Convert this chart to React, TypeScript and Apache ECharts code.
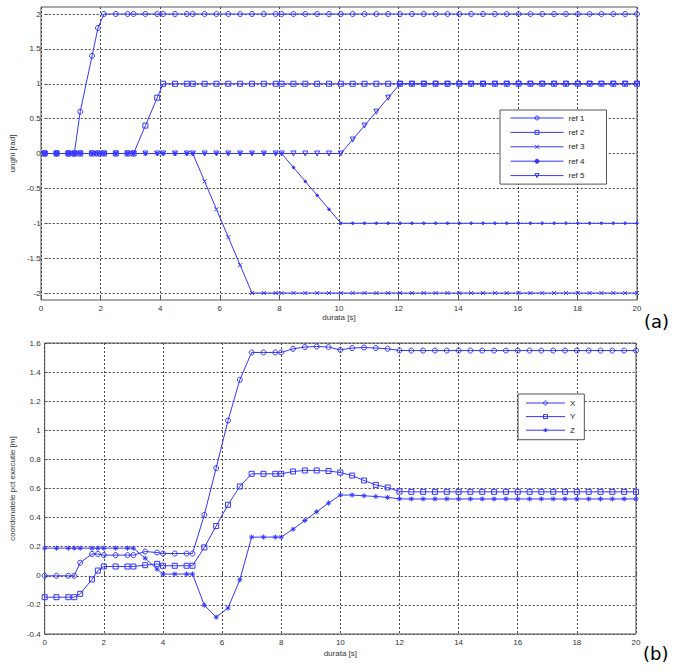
import React, { useEffect, useRef } from "react";
import * as echarts from "echarts";

// sample times (s)
const T = [0, 0.4, 0.8, 1.0, 1.2, 1.6, 1.8, 2.0, 2.4, 2.8, 3.0, 3.4, 3.8, 4.0, 4.4, 4.8, 5.0, 5.4, 5.8, 6.2, 6.6, 7.0, 7.4, 7.8, 8.0, 8.4, 8.8, 9.2, 9.6, 10.0, 10.4, 10.8, 11.2, 11.6, 12.0, 12.4, 12.8, 13.2, 13.6, 14.0, 14.4, 14.8, 15.2, 15.6, 16.0, 16.4, 16.8, 17.2, 17.6, 18.0, 18.4, 18.8, 19.2, 19.6, 20.0];

// (a) references [rad]
const REF1 = [0, 0, 0, 0, 0.6, 1.4, 1.8, 2, 2, 2, 2, 2, 2, 2, 2, 2, 2, 2, 2, 2, 2, 2, 2, 2, 2, 2, 2, 2, 2, 2, 2, 2, 2, 2, 2, 2, 2, 2, 2, 2, 2, 2, 2, 2, 2, 2, 2, 2, 2, 2, 2, 2, 2, 2, 2];
const REF2 = [0, 0, 0, 0, 0, 0, 0, 0, 0, 0, 0, 0.4, 0.8, 1, 1, 1, 1, 1, 1, 1, 1, 1, 1, 1, 1, 1, 1, 1, 1, 1, 1, 1, 1, 1, 1, 1, 1, 1, 1, 1, 1, 1, 1, 1, 1, 1, 1, 1, 1, 1, 1, 1, 1, 1, 1];
const REF3 = [0, 0, 0, 0, 0, 0, 0, 0, 0, 0, 0, 0, 0, 0, 0, 0, 0, -0.4, -0.8, -1.2, -1.6, -2, -2, -2, -2, -2, -2, -2, -2, -2, -2, -2, -2, -2, -2, -2, -2, -2, -2, -2, -2, -2, -2, -2, -2, -2, -2, -2, -2, -2, -2, -2, -2, -2, -2];
const REF4 = [0, 0, 0, 0, 0, 0, 0, 0, 0, 0, 0, 0, 0, 0, 0, 0, 0, 0, 0, 0, 0, 0, 0, 0, 0, -0.2, -0.4, -0.6, -0.8, -1, -1, -1, -1, -1, -1, -1, -1, -1, -1, -1, -1, -1, -1, -1, -1, -1, -1, -1, -1, -1, -1, -1, -1, -1, -1];
const REF5 = [0, 0, 0, 0, 0, 0, 0, 0, 0, 0, 0, 0, 0, 0, 0, 0, 0, 0, 0, 0, 0, 0, 0, 0, 0, 0, 0, 0, 0, 0, 0.2, 0.4, 0.6, 0.8, 1, 1, 1, 1, 1, 1, 1, 1, 1, 1, 1, 1, 1, 1, 1, 1, 1, 1, 1, 1, 1];

// (b) executed point coordinates [m]
const COORD_X = [0, 0, 0, 0, 0.09, 0.15, 0.15, 0.142, 0.142, 0.142, 0.142, 0.167, 0.16, 0.153, 0.153, 0.153, 0.153, 0.419, 0.74, 1.067, 1.347, 1.535, 1.535, 1.535, 1.535, 1.56, 1.572, 1.576, 1.572, 1.553, 1.565, 1.569, 1.565, 1.56, 1.549, 1.548, 1.548, 1.548, 1.548, 1.548, 1.548, 1.548, 1.548, 1.548, 1.548, 1.548, 1.548, 1.548, 1.548, 1.548, 1.548, 1.548, 1.548, 1.548, 1.548];
const COORD_Y = [-0.147, -0.147, -0.147, -0.147, -0.124, -0.025, 0.036, 0.064, 0.064, 0.064, 0.064, 0.073, 0.082, 0.069, 0.069, 0.069, 0.069, 0.195, 0.342, 0.488, 0.614, 0.701, 0.701, 0.701, 0.701, 0.717, 0.724, 0.724, 0.72, 0.71, 0.689, 0.655, 0.625, 0.607, 0.579, 0.577, 0.577, 0.577, 0.577, 0.577, 0.577, 0.577, 0.577, 0.577, 0.577, 0.577, 0.577, 0.577, 0.577, 0.577, 0.577, 0.577, 0.577, 0.577, 0.577];
const COORD_Z = [0.19, 0.19, 0.19, 0.19, 0.19, 0.19, 0.19, 0.19, 0.19, 0.19, 0.19, 0.121, 0.046, 0.012, 0.012, 0.012, 0.012, -0.202, -0.284, -0.222, -0.028, 0.266, 0.266, 0.266, 0.266, 0.32, 0.38, 0.44, 0.5, 0.555, 0.555, 0.55, 0.545, 0.539, 0.529, 0.528, 0.528, 0.528, 0.528, 0.528, 0.528, 0.528, 0.528, 0.528, 0.528, 0.528, 0.528, 0.528, 0.528, 0.528, 0.528, 0.528, 0.528, 0.528, 0.528];

const NAMES_A = ["ref 1", "ref 2", "ref 3", "ref 4", "ref 5"];
const NAMES_B = ["X", "Y", "Z"];

const BLUE = "#3535ff";
const FONT = "Arial, 'Liberation Sans', sans-serif";
const GRIDLINE = { show: true, lineStyle: { type: [2, 2] as any, color: "#444", width: 1 } };
const LABEL = { fontSize: 8, color: "#333", fontFamily: FONT };
const PANEL_FONT = "'DejaVu Sans', Verdana, sans-serif";

const SYM_X = "path://M0 0L10 10M10 0L0 10";
const SYM_STAR = "path://M5 0L5 10M0 5L10 5M1.5 1.5L8.5 8.5M8.5 1.5L1.5 8.5";

const HOLLOW = { color: "rgba(0,0,0,0)", borderColor: BLUE, borderWidth: 1 };
const SOLID = { color: BLUE, borderColor: BLUE, borderWidth: 1 };

function pairs(vals: number[]) {
  return T.map((t, i) => [t, vals[i]]);
}

function lineSeries(name: string, vals: number[], gridIdx: number, symbol: string, size: number, filled: boolean, rotate = 0) {
  return {
    type: "line",
    name,
    xAxisIndex: gridIdx,
    yAxisIndex: gridIdx,
    data: pairs(vals),
    symbol,
    symbolSize: size,
    symbolRotate: rotate,
    showSymbol: true,
    showAllSymbol: true,
    clip: false,
    lineStyle: { color: BLUE, width: 1 },
    itemStyle: filled ? SOLID : HOLLOW,
    emphasis: { disabled: true },
  };
}

function legendItem(name: string, filled: boolean) {
  return { name, itemStyle: filled ? SOLID : HOLLOW, lineStyle: { color: BLUE, width: 1 } };
}

export default function App() {
  const ref = useRef<HTMLDivElement>(null);
  useEffect(() => {
    if (!ref.current) return;
    const chart = echarts.init(ref.current, undefined, { renderer: "svg" });
    const option: any = {
      animation: false,
      backgroundColor: "#fff",
      title: [
        { text: "(a)", left: 644, top: 312, padding: 0, textStyle: { fontSize: 18, fontWeight: "normal", color: "#000", fontFamily: PANEL_FONT } },
        { text: "(b)", left: 643, top: 644, padding: 0, textStyle: { fontSize: 18, fontWeight: "normal", color: "#000", fontFamily: PANEL_FONT } },
      ],
      grid: [
        { left: 41, top: 7, width: 596, height: 293, show: true, borderColor: "#555", borderWidth: 1, containLabel: false },
        { left: 41, top: 14, width: 596, height: 279, show: false, containLabel: false },
        { left: 43, top: 343, width: 593, height: 291, show: true, borderColor: "#555", borderWidth: 1, containLabel: false },
      ],
      xAxis: [
        {
          gridIndex: 0, type: "value", min: 0, max: 20, interval: 2,
          axisLine: { show: false }, axisTick: { show: true, inside: true, length: 3, lineStyle: { color: "#555" } },
          axisLabel: { ...LABEL, margin: 4 }, splitLine: GRIDLINE,
          name: "durata [s]", nameLocation: "middle", nameGap: 13, nameTextStyle: { ...LABEL },
        },
        { gridIndex: 1, type: "value", min: 0, max: 20, show: false },
        {
          gridIndex: 2, type: "value", min: 0, max: 20, interval: 2,
          axisLine: { show: false }, axisTick: { show: true, inside: true, length: 3, lineStyle: { color: "#555" } },
          axisLabel: { ...LABEL, margin: 4 }, splitLine: GRIDLINE,
          name: "durata [s]", nameLocation: "middle", nameGap: 15, nameTextStyle: { ...LABEL },
        },
      ],
      yAxis: [
        { gridIndex: 0, type: "value", min: 0, max: 1, show: false },
        {
          gridIndex: 1, type: "value", min: -2, max: 2, interval: 0.5,
          axisLine: { show: false }, axisTick: { show: true, inside: true, length: 3, lineStyle: { color: "#555" } },
          axisLabel: { ...LABEL, margin: 4 }, splitLine: GRIDLINE,
          name: "unghi [rad]", nameLocation: "middle", nameGap: 24, nameRotate: 90, nameTextStyle: { ...LABEL },
        },
        {
          gridIndex: 2, type: "value", min: -0.4, max: 1.6, interval: 0.2,
          axisLine: { show: false }, axisTick: { show: true, inside: true, length: 3, lineStyle: { color: "#555" } },
          axisLabel: { ...LABEL, margin: 4 }, splitLine: GRIDLINE,
          name: "coordonatele pct executie [m]", nameLocation: "middle", nameGap: 28, nameRotate: 90, nameTextStyle: { ...LABEL },
        },
      ],
      legend: [
        {
          orient: "vertical", left: 500, top: 110, itemWidth: 53, itemHeight: 5, itemGap: 6.4,
          padding: [4, 22, 4.5, 10], borderColor: "#555", borderWidth: 1, backgroundColor: "#fff",
          lineStyle: { width: 1 },
          data: [
            legendItem(NAMES_A[0], false),
            legendItem(NAMES_A[1], false),
            legendItem(NAMES_A[2], false),
            legendItem(NAMES_A[3], true),
            legendItem(NAMES_A[4], false),
          ],
          textStyle: { fontSize: 8, color: "#222", fontFamily: FONT }, selectedMode: false,
        },
        {
          orient: "vertical", left: 518, top: 394, itemWidth: 39, itemHeight: 5, itemGap: 5.6,
          padding: [5, 9, 5.5, 7.5], borderColor: "#555", borderWidth: 1, backgroundColor: "#fff",
          lineStyle: { width: 1 },
          data: [
            legendItem(NAMES_B[0], false),
            legendItem(NAMES_B[1], false),
            legendItem(NAMES_B[2], false),
          ],
          textStyle: { fontSize: 8, color: "#222", fontFamily: FONT }, selectedMode: false,
        },
      ],
      series: [
        lineSeries(NAMES_A[0], REF1, 1, "circle", 5, false),
        lineSeries(NAMES_A[1], REF2, 1, "rect", 5, false),
        lineSeries(NAMES_A[2], REF3, 1, SYM_X, 4, false),
        lineSeries(NAMES_A[3], REF4, 1, "circle", 2.5, true),
        lineSeries(NAMES_A[4], REF5, 1, "triangle", 5, false, 180),
        lineSeries(NAMES_B[0], COORD_X, 2, "circle", 5, false),
        lineSeries(NAMES_B[1], COORD_Y, 2, "rect", 5, false),
        lineSeries(NAMES_B[2], COORD_Z, 2, SYM_STAR, 5, false),
      ],
    };
    chart.setOption(option);
    return () => chart.dispose();
  }, []);
  return (
    <div
      ref={ref}
      style={{ position: "fixed", left: 0, top: 0, width: 676, height: 671, background: "#fff" }}
    />
  );
}
